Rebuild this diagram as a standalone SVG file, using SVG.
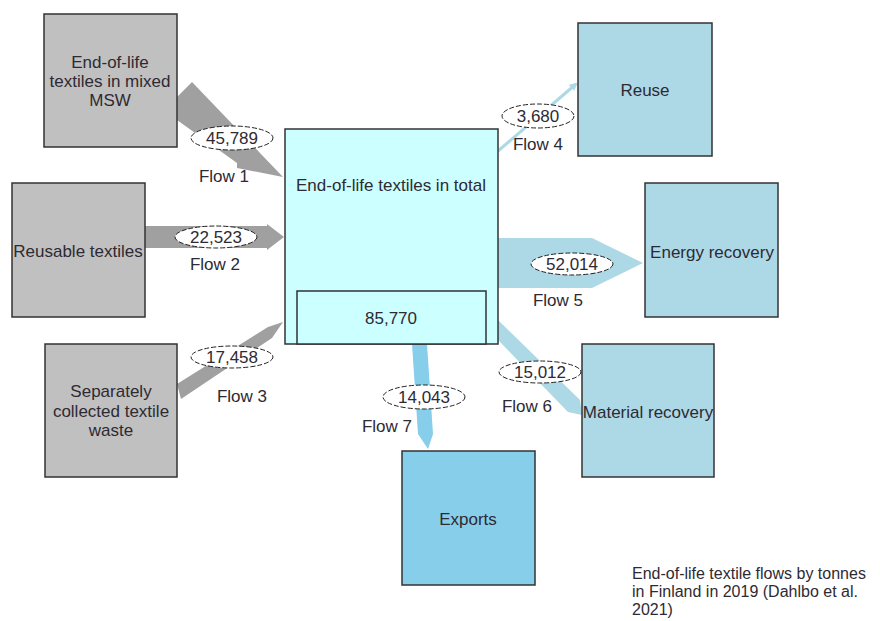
<svg xmlns="http://www.w3.org/2000/svg" width="880" height="621" viewBox="0 0 880 621">
<defs>
<style>
text{font-family:"Liberation Sans",Arial,sans-serif;font-size:17px;fill:#2e2a33;text-anchor:middle}
.src{fill:#c0c0c0;stroke:#333;stroke-width:1.5}
.tot{fill:#ccffff;stroke:#333;stroke-width:1.5}
.dst{fill:#add8e6;stroke:#333;stroke-width:1.5}
.exp{fill:#87ceeb;stroke:#333;stroke-width:1.5}
.gray{fill:#a0a0a0}
.lb{fill:#add8e6}
.sky{fill:#87ceeb}
.lbl ellipse{fill:#fff;stroke:#222;stroke-width:1;stroke-dasharray:5,2}
.cap{text-anchor:start;font-size:16px}
</style>
<marker id="ah4" markerWidth="8" markerHeight="8" refX="6" refY="4" orient="auto" markerUnits="userSpaceOnUse">
<path d="M0,0 L8,4 L0,8 Z" fill="#add8e6"/>
</marker>
</defs>

<g id="connectors">
<polygon id="flow1" class="gray" points="177,97 192,82 283,177 237,168 237,163 177,120"/>
<polygon id="flow2" class="gray" points="145,226 267,226 267,224 284,237 267,250 267,248 145,248"/>
<polygon id="flow3" class="gray" points="177,384 268,327 283,322 272,338 181,399"/>
<line id="flow4" x1="498" y1="151" x2="576" y2="84" stroke="#add8e6" stroke-width="3" marker-end="url(#ah4)"/>
<polygon id="flow5" class="lb" points="498,238 592,238 643,263 592,288 498,288"/>
<polygon id="flow6" class="lb" points="498,320 580,400 582,415 568,412 498,340"/>
<polygon id="flow7" class="sky" points="412,344 427,344 433,434 428,449 418,434"/>
</g>

<g id="node-msw">
<rect class="src" x="44" y="14" width="133" height="133"/>
<text x="110" y="68">End-of-life</text>
<text x="110" y="87">textiles in mixed</text>
<text x="110" y="106">MSW</text>
</g>
<g id="node-reusable">
<rect class="src" x="12" y="183" width="133" height="134"/>
<text x="78" y="257">Reusable textiles</text>
</g>
<g id="node-separate">
<rect class="src" x="45" y="344" width="132" height="133"/>
<text x="111" y="397">Separately</text>
<text x="111" y="417">collected textile</text>
<text x="111" y="436">waste</text>
</g>
<g id="node-total">
<rect class="tot" x="285" y="129" width="213" height="215"/>
<text x="391" y="191">End-of-life textiles in total</text>
<rect class="tot" x="297" y="291" width="189" height="53"/>
<text x="391" y="324">85,770</text>
</g>
<g id="node-reuse">
<rect class="dst" x="578" y="23" width="134" height="133"/>
<text x="645" y="96">Reuse</text>
</g>
<g id="node-energy">
<rect class="dst" x="645" y="183" width="133" height="134"/>
<text x="712" y="258">Energy recovery</text>
</g>
<g id="node-material">
<rect class="dst" x="582" y="344" width="132" height="133"/>
<text x="648" y="418">Material recovery</text>
</g>
<g id="node-exports">
<rect class="exp" x="402" y="451" width="133" height="134"/>
<text x="468" y="525">Exports</text>
</g>

<g id="labels" class="lbl">
<ellipse cx="232" cy="138" rx="41" ry="12"/><text x="232" y="144">45,789</text>
<text x="224" y="182">Flow 1</text>
<ellipse cx="216" cy="237" rx="41" ry="11"/><text x="216" y="243">22,523</text>
<text x="215" y="270">Flow 2</text>
<ellipse cx="232" cy="357" rx="41" ry="11"/><text x="232" y="363">17,458</text>
<text x="242" y="402">Flow 3</text>
<ellipse cx="538" cy="116" rx="36" ry="12"/><text x="538" y="122">3,680</text>
<text x="538" y="150">Flow 4</text>
<ellipse cx="572" cy="264" rx="41" ry="11"/><text x="572" y="270">52,014</text>
<text x="558" y="306">Flow 5</text>
<ellipse cx="540" cy="372" rx="41" ry="11"/><text x="540" y="378">15,012</text>
<text x="527" y="412">Flow 6</text>
<ellipse cx="424" cy="397" rx="41" ry="12"/><text x="424" y="403">14,043</text>
<text x="387" y="432">Flow 7</text>
</g>

<g id="caption">
<text class="cap" x="632" y="579">End-of-life textile flows by tonnes</text>
<text class="cap" x="632" y="597">in Finland in 2019 (Dahlbo et al.</text>
<text class="cap" x="632" y="615">2021)</text>
</g>
</svg>
